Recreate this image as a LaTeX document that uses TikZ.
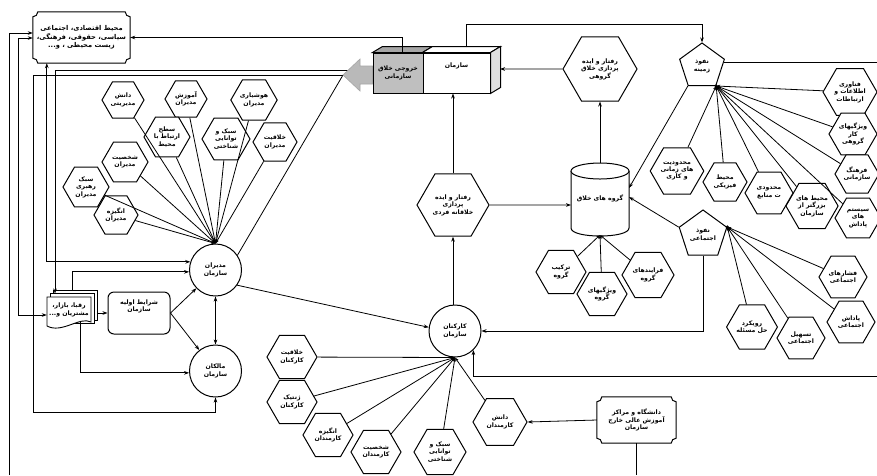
\documentclass[tikz,border=0pt]{standalone}
\usepackage{fontspec}
\newfontfamily\fafont[Script=Arabic]{DejaVu Sans}
\TeXXeTstate=1
\usetikzlibrary{shapes.geometric,arrows.meta,calc}
\newcommand{\RTL}[1]{\beginR#1\endR}
\newcommand{\plaquebox}[1]{%
 \draw[line width=1pt,fill=white] ($(#1.north west)+(5,0)$) -- ($(#1.north east)+(-5,0)$)
 .. controls ($(#1.north east)+(-5,2.8)$) and ($(#1.north east)+(-2.8,5)$) .. ($(#1.north east)+(0,5)$)
 -- ($(#1.south east)+(0,-5)$)
 .. controls ($(#1.south east)+(-2.8,-5)$) and ($(#1.south east)+(-5,-2.8)$) .. ($(#1.south east)+(-5,0)$)
 -- ($(#1.south west)+(5,0)$)
 .. controls ($(#1.south west)+(5,-2.8)$) and ($(#1.south west)+(2.8,-5)$) .. ($(#1.south west)+(0,-5)$)
 -- ($(#1.north west)+(0,5)$)
 .. controls ($(#1.north west)+(2.8,5)$) and ($(#1.north west)+(5,2.8)$) .. ($(#1.north west)+(5,0)$) -- cycle;}
\tikzset{
 txt/.style={font=\fafont\bfseries\fontsize{6.2}{7.4}\selectfont, align=center},
 hexa/.style={draw, line width=1pt, fill=white, regular polygon, regular polygon sides=6, inner sep=0pt, minimum size=#1, txt},
 hexa/.default=48pt,
 penta/.style={draw, line width=1pt, fill=white, regular polygon, regular polygon sides=5, inner sep=0pt, minimum size=#1, txt},
 circ/.style={draw, line width=1pt, fill=white, circle, minimum size=52pt, inner sep=0pt, txt},
 conn/.style={line width=0.8pt},
 arr/.style={conn, -{Stealth[length=5pt,width=3.6pt]}},
 barr/.style={conn, {Stealth[length=5pt,width=3.6pt]}-{Stealth[length=5pt,width=3.6pt]}},
 rarr/.style={conn, {Stealth[length=5pt,width=3.6pt]}-},
 fan/.style={conn, -{Stealth[length=4pt,width=3pt]}},
}
\begin{document}
\begin{tikzpicture}[x=1pt,y=-1pt]
\useasboundingbox (0,0) rectangle (877,475);
\fill[white] (0,0) rectangle (877,475);

% ---------- named free ends ----------
\coordinate (bl) at (9,475);
\coordinate (tipA) at (350,70);
\coordinate (tipB) at (350,75.5);
\coordinate (tip) at (343,75);
\coordinate (zamR) at (877,62);
\coordinate (empR) at (877,376);
\coordinate (ub) at (636.5,475);
\coordinate (orgR) at (500,69);
\coordinate (orgTop) at (466,47);
\coordinate (cylL) at (571,205);
\coordinate (cylT) at (600,163);
\coordinate (cylB) at (600,235);
\coordinate (cylR1) at (629,188);
\coordinate (cylR2) at (629,197);
\coordinate (rivTopA) at (55,293.5);
\coordinate (rivTopB) at (72,290);
\coordinate (rivR) at (97,313);

% ---------- environment box ----------
\node[txt, minimum width=97pt, minimum height=51pt, inner sep=0pt] (env) at (81.5,37.5) {};
\plaquebox{env}
\node[txt, font=\fafont\bfseries\fontsize{6.7}{8.6}\selectfont] at (env) {\RTL{محیط اقتصادی، اجتماعی}\\\RTL{سیاسی، حقوقی، فرهنگی،}\\\RTL{زیست محیطی ، و...}};

% ---------- university box ----------
\node[txt, minimum width=79pt, minimum height=46pt, inner sep=0pt] (uni) at (636.5,420) {};
\plaquebox{uni}
\node[txt] at (uni) {\RTL{دانشگاه و مراکز}\\\RTL{آموزش عالی خارج}\\\RTL{سازمان}};

% ---------- organisation cube ----------
\node[txt, draw, line width=1pt, fill=gray!50, minimum width=50pt, minimum height=40pt, inner sep=0pt] (out) at (398,73) {\RTL{خروجی خلاق}\\\RTL{سازمانی}};
\node[txt, draw, line width=1pt, fill=white, minimum width=67pt, minimum height=40pt, inner sep=0pt] (org) at (456.5,73) {\RTL{سازمان}\\[8pt]};
\filldraw[line width=1pt, fill=gray!70] (out.north west) -- ++(10,-6) -- ($(org.north west)+(10,-6)$) -- (org.north west) -- cycle;
\filldraw[line width=1pt, fill=white] (org.north west) -- ++(10,-6) -- ($(org.north east)+(10,-6)$) -- (org.north east) -- cycle;
\filldraw[line width=1pt, fill=gray!25] (org.north east) -- ++(10,-6) -- ($(org.south east)+(10,-6)$) -- (org.south east) -- cycle;

% ---------- circles ----------
\node[circ] (mgr) at (215.5,270) {\RTL{مدیران}\\\RTL{سازمان}};
\node[circ] (own) at (215.5,371) {\RTL{مالکان}\\\RTL{سازمان}};
\node[circ] (emp) at (455,331) {\RTL{کارکنان}\\\RTL{سازمان}};

% ---------- competitors (multi document) ----------
\filldraw[line width=0.9pt, fill=white] (53,290) -- (97,290) -- (97,320) -- (53,320) -- cycle;
\filldraw[line width=0.9pt, fill=white] (50,293.5) -- (94,293.5) -- (94,323.5) -- (50,323.5) -- cycle;
\filldraw[line width=0.9pt, fill=white] (47,297) -- (91,297) -- (91,322) .. controls (80,316) and (62,334) .. (47,326) -- cycle;
\node[txt, minimum width=44pt, minimum height=29pt, inner sep=0pt] (riv) at (69,310) {\RTL{رقبا، بازار،}\\\RTL{مشتریان و...}};

\node[txt, draw, line width=1pt, rounded corners=6pt, minimum width=62pt, minimum height=42pt, inner sep=0pt] (cond) at (139,313) {\RTL{شرایط اولیه}\\\RTL{سازمان}\\[7pt]};

% ---------- managers hexagons ----------
\node[hexa=42pt] (dm) at (123,100) {\RTL{دانش}\\\RTL{مدیریتی}};
\node[hexa=42pt] (amz) at (186,99) {\RTL{آموزش}\\\RTL{مدیران}};
\node[hexa=46pt] (hsh) at (254,100) {\RTL{هوشیاری}\\\RTL{مدیران}};
\node[hexa=46pt] (sth) at (167,137) {\RTL{سطح}\\\RTL{ارتباط با}\\\RTL{محیط}};
\node[hexa=48pt] (sbk) at (226,139) {\RTL{سبک و}\\\RTL{توانایی}\\\RTL{شناختی}};
\node[hexa=44pt] (khl) at (275,142) {\RTL{خلاقیت}\\\RTL{مدیران}};
\node[hexa=46pt] (shk) at (125,162) {\RTL{شخصیت}\\\RTL{مدیران}};
\node[hexa=46pt] (rhb) at (86,187) {\RTL{سبک}\\\RTL{رهبری}\\\RTL{مدیران}};
\node[hexa=44pt] (ang) at (116,215) {\RTL{انگیزه}\\\RTL{مدیران}};

% ---------- employee hexagons ----------
\node[hexa=50pt] (khle) at (292,357) {\RTL{خلاقیت}\\\RTL{کارکنان}};
\node[hexa=50pt] (zhn) at (292,402) {\RTL{ژنتیک}\\\RTL{کارکنان}};
\node[hexa=50pt] (ange) at (328,435) {\RTL{انگیزه}\\\RTL{کارمندان}};
\node[hexa=50pt] (shke) at (376,452) {\RTL{شخصیت}\\\RTL{کارمندان}};
\node[hexa=52pt] (sbke) at (440,452) {\RTL{سبک و}\\\RTL{توانایی}\\\RTL{شناختی}};
\node[hexa=54pt] (dne) at (500,422) {\RTL{دانش}\\\RTL{کارمندان}};

% ---------- behaviour hexagons ----------
\node[hexa=72pt] (ind) at (453,205) {\RTL{رفتار و ایده}\\\RTL{پردازی}\\\RTL{خلاقانه فردی}};
\node[hexa=74pt] (grp) at (600,69) {\RTL{رفتار و ایده}\\\RTL{پردازی خلاق}\\\RTL{گروهی}};

% ---------- cylinder ----------
\filldraw[line width=1pt, fill=white] (571,171) -- (571,228) .. controls (571,238.7) and (629,238.7) .. (629,228) -- (629,171);
\filldraw[line width=1pt, fill=white] (600,171) ellipse [x radius=29, y radius=8];
\node[txt] (cyl) at (600,198) {\RTL{گروه های خلاق}};

% ---------- group hexagons ----------
\node[hexa=50pt] (trk) at (561,272) {\RTL{ترکیب}\\\RTL{گروه}};
\node[hexa=50pt] (vzg) at (602,294) {\RTL{ویژگیهای}\\\RTL{گروه}};
\node[hexa=52pt] (fry) at (648,275) {\RTL{فرایندهای}\\\RTL{گروه}};

% ---------- pentagons ----------
\node[penta=47pt] (zam) at (702,66.5) {\RTL{نفوذ}\\\RTL{زمینه}};
\node[penta=50pt] (soc) at (703,235) {\RTL{نفوذ}\\\RTL{اجتماعی}};

% ---------- context hexagons ----------
\node[hexa=54pt] (fnv) at (850,92) {\RTL{فناوری}\\\RTL{اطلاعات و}\\\RTL{ارتباطات}};
\node[hexa=48pt] (vzk) at (853,134) {\RTL{ویژگیهای}\\\RTL{کار}\\\RTL{گروهی}};
\node[hexa=44pt] (frh) at (857,174) {\RTL{فرهنگ}\\\RTL{سازمانی}};
\node[hexa=46pt] (sys) at (858,218) {\RTL{سیستم}\\\RTL{های}\\\RTL{پاداش}};
\node[hexa=50pt] (mhb) at (812,206) {\RTL{محیط های}\\\RTL{بزرگتر از}\\\RTL{سازمان}};
\node[hexa=48pt] (mdm) at (769,193) {\RTL{محدودی}\\\RTL{ت منابع}};
\node[hexa=44pt] (mhf) at (725,182) {\RTL{محیط}\\\RTL{فیزیکی}};
\node[hexa=50pt] (mdz) at (677,171) {\RTL{محدودیت}\\\RTL{های زمانی}\\\RTL{و کاری}};

% ---------- social hexagons ----------
\node[hexa=48pt] (fsh) at (843,277) {\RTL{فشارهای}\\\RTL{اجتماعی}};
\node[hexa=48pt] (pds) at (851,322) {\RTL{پاداش}\\\RTL{اجتماعی}};
\node[hexa=48pt] (tsh) at (801,338) {\RTL{تسهیل}\\\RTL{اجتماعی}};
\node[hexa=48pt] (rvk) at (752,327) {\RTL{رویکرد}\\\RTL{حل مسئله}};

% ---------- fans ----------
\foreach \h in {dm,amz,hsh,sth,sbk,khl,shk,rhb,ang} \draw[fan] (\h) -- (mgr.north);
\foreach \h in {khle,zhn,ange,shke,sbke,dne} \draw[fan] (\h) -- (emp.south);
\foreach \h in {trk,vzg,fry} \draw[fan] (\h) -- (cylB);
\foreach \h in {fnv,vzk,frh,sys,mhb,mdm,mhf,mdz} \draw[fan] (\h) -- (zam.corner 4);
\foreach \h in {fsh,pds,tsh,rvk} \draw[fan] (\h) -- (soc.corner 5);
\fill (zam.corner 4) circle (1.8);
\fill (soc.corner 5) circle (1.8);

% ---------- connectors ----------
\draw[conn] (mgr.34) -- (tip);
\draw[arr] (tipA) -| (rivTopA);
\draw[arr] (tipB) -| (33,412) -| (own.south);
\filldraw[fill=gray!55, draw=gray!70, line width=0.6pt] (out.west |- 0,66) -- (360,66) -- (360,59) -- (tip) -- (360,91) -- (360,84) -- (out.west |- 0,84) -- cycle;
\draw[arr] ($(out.north)+(4,0)$) |- (env.east);
\draw[arr] (bl) |- ($(env.west)+(0,-4.5)$);
\draw[barr] ($(env.west)+(0,0.5)$) -| (18,315) -- (riv.west |- 0,315);
\draw[barr] ($(env.south west)+(14,0)$) |- (mgr.162);
\draw[arr] (rivTopB) |- (mgr.184);
\draw[arr] ($(riv.south)+(11,-3)$) |- (own.184);
\draw[arr] (rivR) -- (cond.west);
\draw[arr] (cond.east) -- (mgr);
\draw[arr] (cond.east) -- (own);
\draw[barr] (mgr.south) -- (own.north);
\draw[arr] (mgr.-35) -- (emp.172);
\draw[arr] (emp.north -| ind.south) -- (ind.south);
\draw[arr] (ind.north) -- (ind.north |- org.south);
\draw[arr] (ind.east) -- (cylL);
\draw[arr] (cylT) -- (cylT |- grp.south);
\draw[arr] (grp.west) -- (orgR);
\draw[arr] (orgTop) -- (466,24) -| (zam.north);
\draw[conn] (zam.10) -- (zam.10 -| zamR);
\draw[arr] (soc.south) |- (emp.east);
\draw[rarr] (emp.-46) |- (empR);
\draw[rarr] (dne.east) -- (uni.west);
\draw[conn] (uni.south) -- (ub);
\draw[rarr] (cylR1) -- (zam.corner 3);
\draw[rarr] (cylR2) -- (soc.corner 2);
\end{tikzpicture}
\end{document}
